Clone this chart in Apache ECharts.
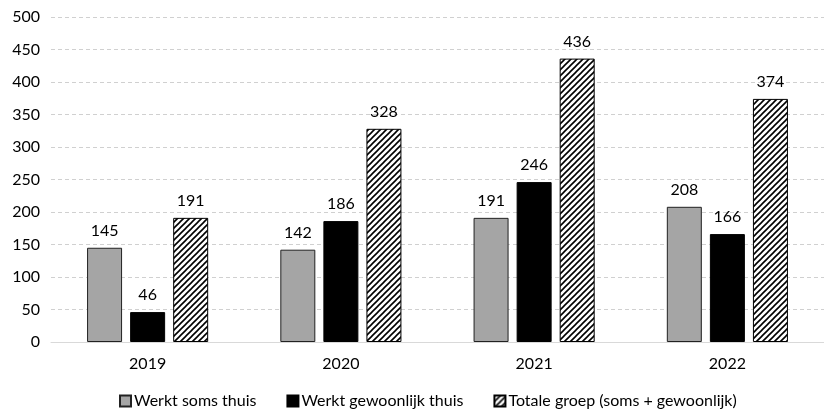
<!DOCTYPE html>
<html>
<head>
<meta charset="utf-8">
<script src="https://cdn.jsdelivr.net/npm/echarts@6/dist/echarts.min.js"></script>
<style>
  html, body { margin: 0; padding: 0; background: #fff; }
  #chart { width: 824px; height: 411px; }
</style>
</head>
<body>
<div id="chart"></div>
<script>
const years = ['2019', '2020', '2021', '2022'];
const werktSoms = [145, 142, 191, 208];
const werktGewoonlijk = [46, 186, 246, 166];
const totaleGroep = [191, 328, 436, 374];
const seriesNames = ['Werkt soms thuis', 'Werkt gewoonlijk thuis', 'Totale groep (soms + gewoonlijk)'];

// diagonal hatch tile
function hatch(size, lw) {
  const c = document.createElement('canvas');
  c.width = size; c.height = size;
  const g = c.getContext('2d');
  g.fillStyle = '#fff';
  g.fillRect(0, 0, size, size);
  g.strokeStyle = '#000';
  g.lineWidth = lw;
  g.beginPath();
  g.moveTo(-1, size + 1); g.lineTo(size + 1, -1);
  g.moveTo(-1, 1); g.lineTo(1, -1);
  g.moveTo(size - 1, size + 1); g.lineTo(size + 1, size - 1);
  g.stroke();
  return c;
}
const hatchFill = { image: hatch(6, 1.6), repeat: 'repeat' };

const font = 'Lato, "DejaVu Sans", sans-serif';
const chart = echarts.init(document.getElementById('chart'));
const label = { show: true, position: 'top', distance: 9, color: '#000', fontSize: 16, fontFamily: font };

chart.setOption({
  animation: false,
  textStyle: { fontFamily: font },
  grid: { left: 51, top: 17, width: 777, height: 325, containLabel: false },
  legend: {
    top: 388, left: 114, width: 700, itemWidth: 11, itemHeight: 11, itemGap: 30,
    textStyle: { fontSize: 16, color: '#000', fontFamily: font, padding: [0, 0, 0, -2] },
    data: seriesNames.map(n => ({ name: n, icon: 'rect' }))
  },
  xAxis: {
    type: 'category', data: years,
    axisLine: { lineStyle: { color: '#d9d9d9', width: 1 } },
    axisTick: { show: false },
    axisLabel: { color: '#000', fontSize: 16, margin: 14, fontFamily: font }
  },
  yAxis: {
    type: 'value', min: 0, max: 500, interval: 50,
    axisLine: { show: false }, axisTick: { show: false },
    axisLabel: { color: '#000', fontSize: 16, margin: 11, fontFamily: font },
    splitLine: { lineStyle: { color: '#d0d0d0', type: [4, 3] } }
  },
  series: [
    { name: seriesNames[0], type: 'bar', data: werktSoms, barWidth: 35, barGap: '23%',
      itemStyle: { color: '#a5a5a5', borderColor: '#222', borderWidth: 1 }, label },
    { name: seriesNames[1], type: 'bar', data: werktGewoonlijk, barWidth: 35, barGap: '23%',
      itemStyle: { color: '#000', borderColor: '#000', borderWidth: 1 }, label },
    { name: seriesNames[2], type: 'bar', data: totaleGroep, barWidth: 35, barGap: '23%',
      itemStyle: { color: hatchFill, borderColor: '#000', borderWidth: 1 }, label }
  ]
});
</script>
</body>
</html>
